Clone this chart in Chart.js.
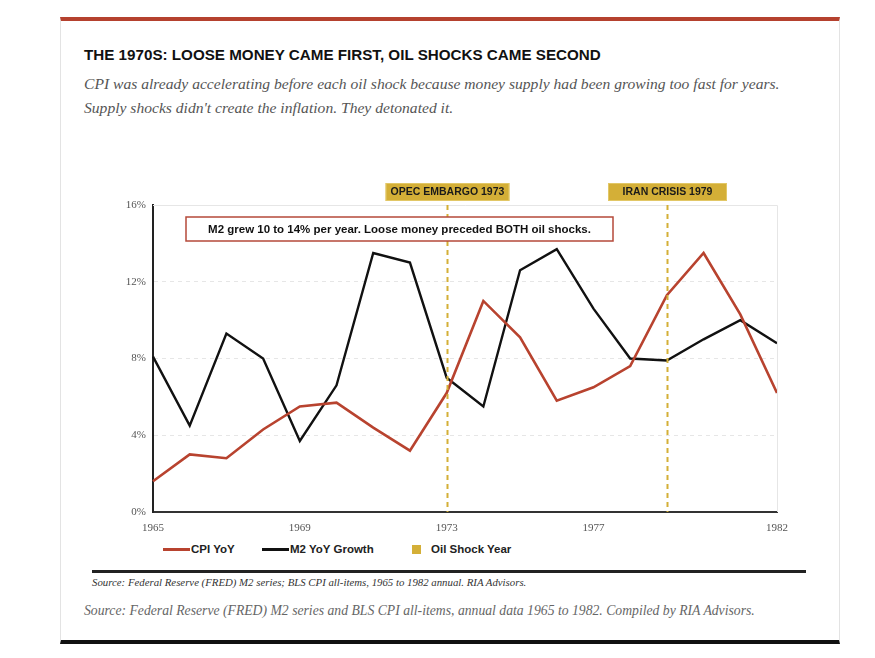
<!DOCTYPE html>
<html lang="en">
<head>
<meta charset="UTF-8">
<title>1970s M2 vs CPI</title>
<script src="https://cdn.jsdelivr.net/npm/chart.js"></script>
<style>
    body { margin: 0; background: #fff; width: 875px; height: 658px; position: relative; overflow: hidden; }
    .card {
        position: absolute; left: 60px; top: 17px; width: 778px; height: 619px;
        border-left: 1px solid #e3e3e3; border-right: 1px solid #e3e3e3;
        border-top: 4px solid #b5412e; border-bottom: 4px solid #111;
    }
    .title {
        position: absolute; left: 84px; top: 46px;
        font-family: "Liberation Sans", Arial, sans-serif; font-weight: bold; font-size: 15.2px; color: #111;
    }
    .sub {
        position: absolute; left: 84px; top: 72px; width: 750px; white-space: nowrap;
        font-family: "Liberation Serif", Georgia, serif; font-style: italic; font-size: 15.6px; line-height: 24px; color: #555;
    }
    .chart-box { position: absolute; left: 84px; top: 140px; width: 716px; height: 400px; }
    .legend {
        position: absolute; top: 541px; left: 163px; height: 16px;
        font-family: "Liberation Sans", Arial, sans-serif; font-weight: bold; font-size: 11.5px; color: #222;
    }
    .legend span { position: absolute; top: 0; white-space: nowrap; line-height: 16px; }
    .sw-line { position: absolute; width: 27px; height: 3px; top: 7px; }
    .sw-box { position: absolute; width: 9px; height: 9px; top: 4px; }
    .rule { position: absolute; left: 92px; top: 570px; width: 714px; height: 3px; background: #222; }
    .src-small {
        position: absolute; left: 92px; top: 576px;
        font-family: "Liberation Serif", Georgia, serif; font-style: italic; font-size: 10.8px; color: #333;
    }
    .src {
        position: absolute; left: 84px; top: 603px;
        font-family: "Liberation Serif", Georgia, serif; font-style: italic; font-size: 13.7px; color: #666;
    }
</style>
</head>
<body>
    <div class="card"></div>
    <div class="title">THE 1970S: LOOSE MONEY CAME FIRST, OIL SHOCKS CAME SECOND</div>
    <div class="sub">CPI was already accelerating before each oil shock because money supply had been growing too fast for years.<br>Supply shocks didn't create the inflation. They detonated it.</div>
    <div class="chart-box"><canvas id="grafico"></canvas></div>
    <div class="legend">
        <div class="sw-line" style="left:0; background:#b8432f;"></div>
        <span style="left:28px;">CPI YoY</span>
        <div class="sw-line" style="left:99px; background:#111;"></div>
        <span style="left:127px;">M2 YoY Growth</span>
        <div class="sw-box" style="left:249px; background:#d4af37;"></div>
        <span style="left:268px;">Oil Shock Year</span>
    </div>
    <div class="rule"></div>
    <div class="src-small">Source: Federal Reserve (FRED) M2 series; BLS CPI all-items, 1965 to 1982 annual. RIA Advisors.</div>
    <div class="src">Source: Federal Reserve (FRED) M2 series and BLS CPI all-items, annual data 1965 to 1982. Compiled by RIA Advisors.</div>

<script>
    // data
    const anos = ['1965', '1966', '1967', '1968', '1969', '1970', '1971', '1972', '1973',
        '1974', '1975', '1976', '1977', '1978', '1979', '1980', '1981', '1982'];
    const cpiYoY = [1.6, 3.0, 2.8, 4.3, 5.5, 5.7, 4.4, 3.2, 6.2, 11.0, 9.1, 5.8, 6.5, 7.6, 11.3, 13.5, 10.3, 6.2];
    const m2YoY = [8.1, 4.5, 9.3, 8.0, 3.7, 6.6, 13.5, 13.0, 7.0, 5.5, 12.6, 13.7, 10.6, 8.0, 7.9, 9.0, 10.0, 8.8];
    const anosChoque = ['1973', '1979'];
    const rotulosChoque = ['OPEC EMBARGO 1973', 'IRAN CRISIS 1979'];
    const anosMostrados = ['1965', '1969', '1973', '1977', '1982'];
    const yTicks = [0, 4, 8, 12, 16];
    const nota = 'M2 grew 10 to 14% per year. Loose money preceded BOTH oil shocks.';

    const serif = "'Liberation Serif', Georgia, serif";
    const sans = "'Liberation Sans', Arial, sans-serif";
    const ouro = '#d4af37';

    const choquesPlugin = {
        id: 'choques',
        afterDatasetsDraw(chart) {
            const { ctx, chartArea, scales } = chart;
            ctx.save();
            // solid top / right frame
            ctx.strokeStyle = '#e6e6e6';
            ctx.lineWidth = 1;
            ctx.beginPath();
            ctx.moveTo(chartArea.left, chartArea.top + 0.5);
            ctx.lineTo(chartArea.right + 0.5, chartArea.top + 0.5);
            ctx.lineTo(chartArea.right + 0.5, chartArea.bottom);
            ctx.stroke();

            anosChoque.forEach(function (ano, i) {
                const x = Math.round(scales.x.getPixelForValue(anos.indexOf(ano))) + 0.5;
                ctx.strokeStyle = ouro;
                ctx.lineWidth = 2;
                ctx.setLineDash([5, 4]);
                ctx.beginPath();
                ctx.moveTo(x, chartArea.top);
                ctx.lineTo(x, chartArea.bottom);
                ctx.stroke();
                ctx.setLineDash([]);

                ctx.font = 'bold 10.5px ' + sans;
                const w = Math.max(ctx.measureText(rotulosChoque[i]).width + 10, 119);
                const top = chartArea.top - 22;
                ctx.fillStyle = ouro;
                ctx.fillRect(x - w / 2, top, w, 18);
                ctx.strokeStyle = '#e2c766';
                ctx.lineWidth = 1;
                ctx.strokeRect(x - w / 2 + 0.5, top + 0.5, w - 1, 17);
                ctx.fillStyle = '#1a1a1a';
                ctx.textAlign = 'center';
                ctx.textBaseline = 'middle';
                ctx.fillText(rotulosChoque[i], x, top + 9.5);
            });

            // note box
            ctx.font = 'bold 11.5px ' + sans;
            const bx = chartArea.left + 33, by = chartArea.top + 12, bw = 427, bh = 24;
            ctx.fillStyle = '#fff';
            ctx.fillRect(bx, by, bw, bh);
            ctx.strokeStyle = '#b5493a';
            ctx.lineWidth = 1.5;
            ctx.strokeRect(bx, by, bw, bh);
            ctx.fillStyle = '#111';
            ctx.textAlign = 'center';
            ctx.textBaseline = 'middle';
            ctx.fillText(nota, bx + bw / 2, by + bh / 2 + 1);
            ctx.restore();
        }
    };

    new Chart(document.getElementById('grafico').getContext('2d'), {
        type: 'line',
        data: {
            labels: anos,
            datasets: [{
                label: 'CPI YoY',
                data: cpiYoY,
                borderColor: '#b8432f',
                borderWidth: 2.6,
                pointRadius: 0,
                tension: 0
            }, {
                label: 'M2 YoY Growth',
                data: m2YoY,
                borderColor: '#111111',
                borderWidth: 2.4,
                pointRadius: 0,
                tension: 0
            }]
        },
        options: {
            responsive: true,
            maintainAspectRatio: false,
            animation: false,
            layout: { padding: { top: 65, right: 23, left: 0, bottom: 0 } },
            plugins: {
                legend: { display: false },
                tooltip: { enabled: false }
            },
            scales: {
                x: {
                    grid: { display: false, drawTicks: false },
                    border: { display: true, color: '#333', width: 2 },
                    afterFit: function (s) { s.height = 28; },
                    ticks: {
                        autoSkip: false,
                        maxRotation: 0,
                        padding: 10,
                        color: '#555',
                        font: { family: serif, size: 11 },
                        callback: function (v, i) {
                            return anosMostrados.includes(anos[i]) ? anos[i] : '';
                        }
                    }
                },
                y: {
                    min: 0,
                    max: 16,
                    afterFit: function (s) { s.width = 69; },
                    afterBuildTicks: function (s) { s.ticks = yTicks.map(v => ({ value: v })); },
                    grid: {
                        drawTicks: false,
                        color: function (c) { return c.tick && c.tick.value === 0 ? 'rgba(0,0,0,0)' : '#e6e6e6'; }
                    },
                    border: { display: true, color: '#222', width: 2, dash: [4, 4] },
                    ticks: {
                        padding: 7,
                        color: '#555',
                        font: { family: serif, size: 11 },
                        callback: function (v) { return v + '%'; }
                    }
                }
            }
        },
        plugins: [choquesPlugin]
    });
</script>
</body>
</html>
